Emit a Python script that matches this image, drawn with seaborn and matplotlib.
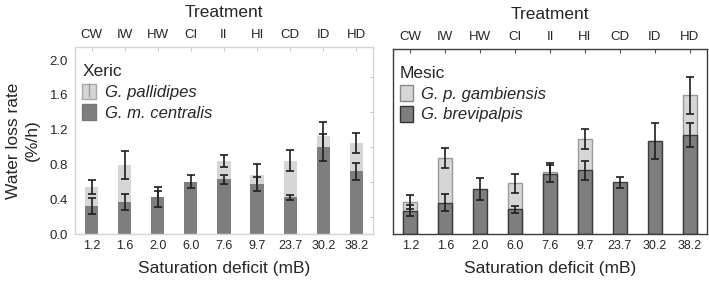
import numpy as np
import pandas as pd
import seaborn as sns
import matplotlib.pyplot as plt
from matplotlib.patches import Patch
from matplotlib.lines import Line2D

sns.set_style('white')
plt.rcParams['font.family'] = ['Liberation Sans', 'DejaVu Sans']

# 資料
treatment = ['CW', 'IW', 'HW', 'CI', 'II', 'HI', 'CD', 'ID', 'HD']
sat_deficit = ['1.2', '1.6', '2.0', '6.0', '7.6', '9.7', '23.7', '30.2', '38.2']

# Xeric
pallidipes = [0.54, 0.79, 0.43, np.nan, 0.84, 0.68, 0.845, 1.13, 1.05]
pallidipes_err = [0.085, 0.16, 0.07, np.nan, 0.07, 0.13, 0.12, 0.16, 0.115]
centralis = [0.32, 0.37, 0.43, 0.60, 0.63, 0.57, 0.42, 0.995, 0.72]
centralis_err = [0.095, 0.09, 0.115, 0.075, 0.05, 0.08, 0.03, 0.16, 0.10]

# Mesic
gambiensis = [0.37, 0.885, np.nan, 0.59, 0.72, 1.105, np.nan, np.nan, 1.61]
gambiensis_err = [0.08, 0.115, np.nan, 0.11, 0.11, 0.12, np.nan, np.nan, 0.215]
brevipalpis = [0.27, 0.365, 0.525, 0.29, 0.70, 0.74, 0.60, 1.08, 1.155]
brevipalpis_err = [0.065, 0.10, 0.125, 0.04, 0.10, 0.11, 0.06, 0.21, 0.14]

LIGHT = '#d6d6d6'
DARK = '#7e7e7e'


def draw_panel(ax, light, light_err, dark, dark_err, edge_light, edge_dark, lw):
    df = pd.DataFrame({'sat': sat_deficit, 'light': light, 'dark': dark})
    pos = np.arange(len(sat_deficit))
    sns.barplot(data=df, x='sat', y='light', order=sat_deficit, color=LIGHT,
                saturation=1, width=0.4, edgecolor=edge_light, linewidth=lw,
                errorbar=None, ax=ax, zorder=1)
    ax.errorbar(pos, light, yerr=light_err, fmt='none', ecolor='#1e1e1e',
                elinewidth=1.2, capsize=2.7, capthick=1.2, zorder=1.5)
    sns.barplot(data=df, x='sat', y='dark', order=sat_deficit, color=DARK,
                saturation=1, width=0.4, edgecolor=edge_dark, linewidth=lw,
                errorbar=None, ax=ax, zorder=2)
    ax.errorbar(pos, dark, yerr=dark_err, fmt='none', ecolor='#1e1e1e',
                elinewidth=1.2, capsize=2.7, capthick=1.2, zorder=3)

    ax.set_xlim(-0.5, 8.5)
    ax.set_ylim(0, 2.15)
    ax.set_xlabel('Saturation deficit (mB)', fontsize=12.5, labelpad=7)
    ax.set_ylabel('')
    ax.tick_params(axis='x', labelsize=9, length=0, pad=4)

    top = ax.secondary_xaxis('top')
    top.set_xticks(range(len(treatment)), labels=treatment)
    top.tick_params(direction='in', length=3, labelsize=9.5, pad=4,
                    color='#555555')
    top.set_xlabel('Treatment', fontsize=12.5, labelpad=9)
    return top


fig = plt.figure(figsize=(7.09, 2.84), dpi=100)
ax1 = fig.add_axes([0.1058, 0.176, 0.4202, 0.6585])
ax2 = fig.add_axes([0.5543, 0.176, 0.4429, 0.6515])

# 左：Xeric
top1 = draw_panel(ax1, pallidipes, pallidipes_err, centralis, centralis_err,
                  'none', 'none', 0)
ax1.set_yticks(np.arange(0, 2.01, 0.4))
ax1.set_yticklabels([f'{v:.1f}' for v in np.arange(0, 2.01, 0.4)])
ax1.set_yticks(np.arange(0, 2.15, 0.2), minor=True)
ax1.tick_params(axis='y', which='major', labelsize=9.5, length=0, pad=5)
ax1.tick_params(axis='y', which='minor', left=False, right=True,
                direction='in', length=2.5, color='#bbbbbb')
ax1.set_ylabel('Water loss rate\n(%/h)', fontsize=12.5, labelpad=7,
               linespacing=1.35)
for s in ax1.spines.values():
    s.set_color('#d4d4d4')
    s.set_linewidth(1)
top1.spines['top'].set_visible(False)
top1.tick_params(color='#cccccc')

h1 = [(Patch(facecolor=LIGHT, edgecolor='#a8a8a8', linewidth=1),
       Line2D([], [], color='#999999', marker='|', markersize=10,
              linestyle='none')),
      Patch(facecolor=DARK, edgecolor='#777777', linewidth=1)]
leg1 = ax1.legend(h1, ['G. pallidipes', 'G. m. centralis'], title='Xeric',
                  loc='upper left', bbox_to_anchor=(-0.012, 0.965),
                  frameon=False,
                  prop={'style': 'italic', 'size': 12}, title_fontsize=12.5,
                  handlelength=0.85, handleheight=1.05, handletextpad=0.5,
                  labelspacing=0.25, borderpad=0.35, borderaxespad=0.3,
                  alignment='left')

# 右：Mesic
top2 = draw_panel(ax2, gambiensis, gambiensis_err, brevipalpis,
                  brevipalpis_err, '#9a9a9a', '#3a3a3a', 1.0)
ax2.set_yticks(np.arange(0.2, 2.15, 0.2))
ax2.set_yticklabels([])
ax2.tick_params(axis='y', direction='in', length=2.5, color='#555555')
for s in ax2.spines.values():
    s.set_color('#3c3c3c')
    s.set_linewidth(1)
top2.spines['top'].set_visible(False)

h2 = [Patch(facecolor=LIGHT, edgecolor='#8a8a8a', linewidth=1),
      Patch(facecolor=DARK, edgecolor='#333333', linewidth=1)]
leg2 = ax2.legend(h2, ['G. p. gambiensis', 'G. brevipalpis'], title='Mesic',
                  loc='upper left', bbox_to_anchor=(-0.012, 0.965),
                  frameon=False,
                  prop={'style': 'italic', 'size': 12}, title_fontsize=12.5,
                  handlelength=0.75, handleheight=1.05, handletextpad=0.5,
                  labelspacing=0.25, borderpad=0.35, borderaxespad=0.3,
                  alignment='left')

plt.savefig('out.png', dpi=100)
